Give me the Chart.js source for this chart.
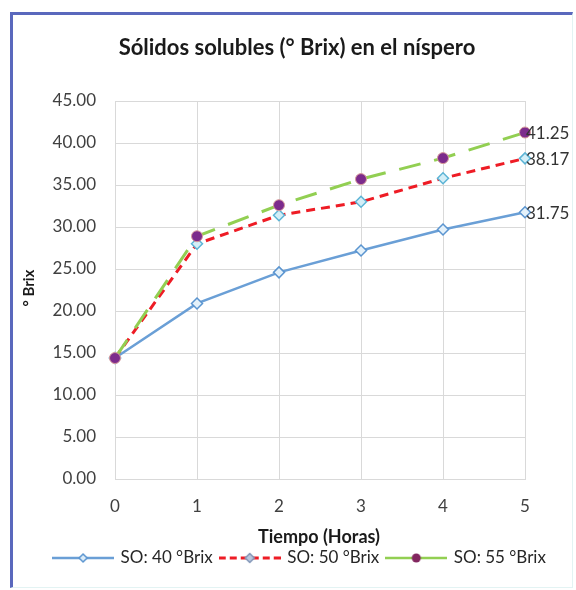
<!DOCTYPE html>
<html>
<head>
<meta charset="utf-8">
<script src="https://cdn.jsdelivr.net/npm/chart.js@4/dist/chart.umd.min.js"></script>
<style>
  body { margin: 0; background: #fff; }
  #wrap { position: relative; width: 576px; height: 590px; }
  #frame {
    position: absolute; left: 10px; top: 12px; width: 559px; height: 572px;
    border-left: 3px solid #5a68bd; border-top: 3px solid #5a68bd;
    border-right: 1px solid #e3f3f3; border-bottom: 1px solid #e3f3f3;
    pointer-events: none;
  }
</style>
</head>
<body>
<div id="wrap">
  <canvas id="chart" width="576" height="590"></canvas>
  <div id="frame"></div>
</div>
<script>
// data
const horas = ['0', '1', '2', '3', '4', '5'];
const so40 = [14.4, 20.9, 24.6, 27.2, 29.7, 31.75];
const so50 = [14.4, 28.0, 31.4, 33.0, 35.8, 38.17];
const so55 = [14.4, 28.9, 32.6, 35.7, 38.2, 41.25];
const seriesNames = ['SO: 40 °Brix', 'SO: 50 °Brix', 'SO: 55 °Brix'];
const yTicks = [0, 5, 10, 15, 20, 25, 30, 35, 40, 45];

const FONT = 'Lato, "Open Sans", sans-serif';

// small legend swatch: line with marker in the middle
function swatch(color, dash, width, drawMarker) {
  const c = document.createElement('canvas');
  c.width = 62; c.height = 14;
  const g = c.getContext('2d');
  g.strokeStyle = color;
  g.lineWidth = width;
  g.setLineDash(dash);
  g.beginPath(); g.moveTo(0, 7); g.lineTo(62, 7); g.stroke();
  g.setLineDash([]);
  drawMarker(g, 31, 7);
  return c;
}
function diamond(g, x, y, r, fill, stroke) {
  g.beginPath();
  g.moveTo(x, y - r); g.lineTo(x + r, y); g.lineTo(x, y + r); g.lineTo(x - r, y); g.closePath();
  g.fillStyle = fill; g.fill();
  g.lineWidth = 1.5; g.strokeStyle = stroke; g.stroke();
}
const sw40 = swatch('#6a9fd6', [], 2.5, (g, x, y) => diamond(g, x, y, 4, '#dcecf8', '#5b95d0'));
const sw50 = swatch('#ee1c25', [7, 4], 3, (g, x, y) => diamond(g, x, y, 4.5, '#b9c7dc', '#8296b8'));
const sw55 = swatch('#92cf52', [], 2.5, (g, x, y) => {
  g.beginPath(); g.arc(x, y, 4.5, 0, Math.PI * 2);
  g.fillStyle = '#82265f'; g.fill();
});

// titles and end labels
const textPlugin = {
  id: 'texts',
  afterDraw(chart) {
    const ctx = chart.ctx;
    ctx.save();
    ctx.fillStyle = '#1a1a1a';
    ctx.textBaseline = 'middle';
    ctx.textAlign = 'center';
    ctx.font = 'bold 22px ' + FONT;
    ctx.fillText('Sólidos solubles (° Brix) en el níspero', 297, 48);
    ctx.font = 'bold 18px ' + FONT;
    ctx.fillText('Tiempo (Horas)', 319, 537);
    ctx.save();
    ctx.translate(29, 288);
    ctx.rotate(-Math.PI / 2);
    ctx.font = 'bold 15px ' + FONT;
    ctx.fillText('° Brix', 0, 0);
    ctx.restore();
    // value labels on the last point of each series
    ctx.font = '17px ' + FONT;
    ctx.textAlign = 'left';
    ctx.fillStyle = '#333';
    chart.data.datasets.forEach((ds, i) => {
      const meta = chart.getDatasetMeta(i);
      const last = meta.data[meta.data.length - 1];
      const v = ds.data[ds.data.length - 1];
      ctx.fillText(v.toFixed(2), last.x + 1, last.y + 1);
    });
    ctx.restore();
  }
};

new Chart(document.getElementById('chart'), {
  type: 'line',
  data: {
    labels: horas,
    datasets: [
      {
        label: seriesNames[0], data: so40, order: 2,
        borderColor: '#6a9fd6', borderWidth: 2.5,
        pointStyle: 'rectRot', pointRadius: 5.5,
        pointBackgroundColor: '#e4f1fa', pointBorderColor: '#5b95d0', pointBorderWidth: 1.5,
        legendSwatch: sw40
      },
      {
        label: seriesNames[1], data: so50, order: 1,
        borderColor: '#ee1c25', borderWidth: 3, borderDash: [9, 6],
        pointStyle: 'rectRot', pointRadius: 5.5,
        pointBackgroundColor: '#d3eef7', pointBorderColor: '#5cb4d6', pointBorderWidth: 1.5,
        legendSwatch: sw50
      },
      {
        label: seriesNames[2], data: so55, order: 0,
        borderColor: '#92cf52', borderWidth: 3, borderDash: [22, 14],
        pointStyle: 'circle', pointRadius: 5.5,
        pointBackgroundColor: '#7c2b8c', pointBorderColor: '#d69a9a', pointBorderWidth: 1,
        legendSwatch: sw55
      }
    ]
  },
  options: {
    responsive: false,
    animation: false,
    layout: { padding: { left: 24, right: 0, top: 101, bottom: 13.5 } },
    plugins: {
      title: { display: false },
      tooltip: { enabled: false },
      legend: {
        position: 'bottom',
        labels: {
          usePointStyle: true,
          pointStyleWidth: 58,
          padding: 8,
          color: '#262626',
          font: { family: FONT, size: 17 },
          sort: (a, b) => a.datasetIndex - b.datasetIndex,
          generateLabels(chart) {
            return chart.data.datasets.map((ds, i) => ({
              text: ds.label,
              datasetIndex: i,
              pointStyle: ds.legendSwatch,
              fillStyle: 'transparent',
              strokeStyle: 'transparent',
              lineWidth: 0,
              fontColor: '#262626'
            }));
          }
        }
      }
    },
    scales: {
      x: {
        offset: false,
        grid: { color: '#d9d9d9', drawTicks: false },
        border: { color: '#d9d9d9' },
        ticks: { padding: 17, color: '#404040', font: { family: FONT, size: 17 } },
        afterFit: s => { s.height = 62.5; }
      },
      y: {
        min: 0, max: 45,
        afterBuildTicks: s => { s.ticks = yTicks.map(v => ({ value: v })); },
        grid: { color: '#d9d9d9', drawTicks: false },
        border: { color: '#d9d9d9' },
        ticks: {
          padding: 19, color: '#404040', font: { family: FONT, size: 17 },
          callback: v => v.toFixed(2)
        },
        afterFit: s => { s.width = 91; }
      },
      // empty right-hand axis: only reserves room for the end labels
      yr: {
        position: 'right',
        min: 0, max: 45,
        grid: { display: false },
        border: { display: false },
        ticks: { display: false },
        afterFit: s => { s.width = 51; }
      }
    }
  },
  plugins: [textPlugin]
});
</script>
</body>
</html>
